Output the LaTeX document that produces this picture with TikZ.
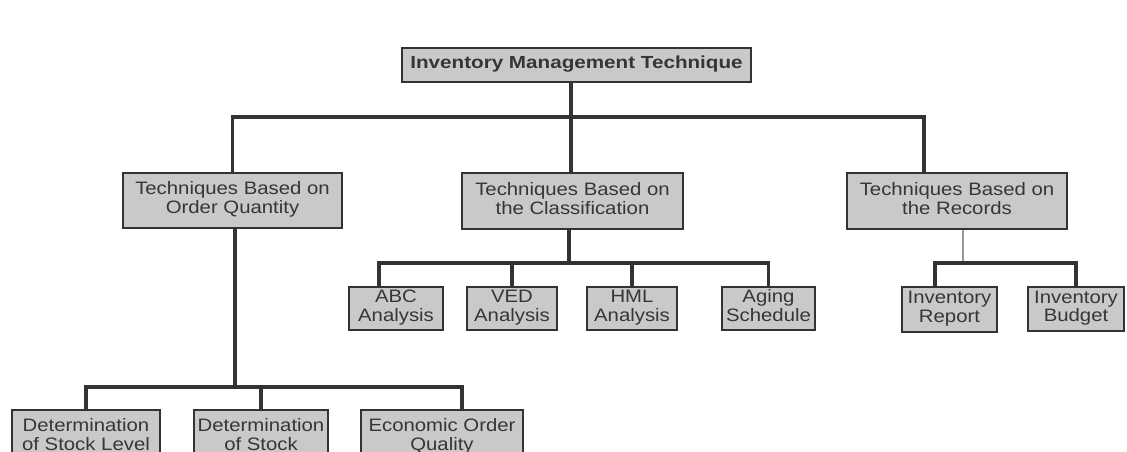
\documentclass[tikz,border=0pt]{standalone}
\usepackage{fontspec}
\setmainfont{Liberation Sans}
\usepackage{graphicx}
\definecolor{boxfill}{HTML}{C9C9C9}
\definecolor{boxline}{HTML}{333333}
\definecolor{txt}{HTML}{363636}
\definecolor{lightconn}{HTML}{9A9A9A}
\newcommand{\lbl}[2][1.13]{\scalebox{#1}[1]{\begin{tabular}{@{}c@{}}#2\end{tabular}}}
\begin{document}
\begin{tikzpicture}[x=1pt,y=-1pt,
  box/.style={draw=boxline, line width=1.8pt, fill=boxfill, inner sep=0pt,
    text=txt, font=\fontsize{18}{18.5}\selectfont},
  conn/.style={draw=boxline, line width=3.2pt},
  lconn/.style={draw=lightconn, line width=2.4pt}]
\useasboundingbox (0,0) rectangle (1127,452);
\fill[white] (0,0) rectangle (1127,452);
\clip (0,0) rectangle (1127,452);
% level 1
\node[box, minimum width=349pt, minimum height=34pt, font=\fontsize{17.5}{18}\selectfont\bfseries] (top) at (576.5,65) {\lbl[1.18]{Inventory Management Technique}};
% level 2
\node[box, minimum width=219pt, minimum height=55pt] (q) at (232.5,200.5) {\lbl{Techniques Based on\\Order Quantity}};
\node[box, minimum width=221pt, minimum height=56pt] (c) at (572.5,201) {\lbl{Techniques Based on\\the Classification}};
\node[box, minimum width=220pt, minimum height=56pt] (r) at (957,201) {\lbl{Techniques Based on\\the Records}};
% level 3 classification
\node[box, minimum width=94pt, minimum height=43pt] (abc) at (396,308.5) {\lbl{ABC\\Analysis}};
\node[box, minimum width=90pt, minimum height=43pt] (ved) at (512,308.5) {\lbl{VED\\Analysis}};
\node[box, minimum width=90pt, minimum height=43pt] (hml) at (632,308.5) {\lbl{HML\\Analysis}};
\node[box, minimum width=93pt, minimum height=43pt] (aging) at (768.5,308.5) {\lbl{Aging\\Schedule}};
% level 3 records
\node[box, minimum width=95pt, minimum height=45pt] (rep) at (949.5,309.5) {\lbl{Inventory\\Report}};
\node[box, minimum width=96pt, minimum height=44pt] (bud) at (1076,309) {\lbl{Inventory\\Budget}};
% level 3 order quantity
\node[box, minimum width=148pt, minimum height=55pt] (d1) at (86,437.5) {\lbl{Determination\\of Stock Level}};
\node[box, minimum width=134pt, minimum height=55pt] (d2) at (261,437.5) {\lbl{Determination\\of Stock}};
\node[box, minimum width=162pt, minimum height=55pt] (d3) at (442,437.5) {\lbl{Economic Order\\Quality}};
% connectors level 1 -> 2
\coordinate (j1) at (571,117);
\coordinate (rt) at (924,117);
\draw[conn] (top.south -| j1) -- (j1);
\draw[conn] (q.north) |- (rt) -- (rt |- r.north);
\draw[conn] (j1) -- (j1 |- c.north);
% classification
\coordinate (j2) at (569,263);
\coordinate (abcd) at (379,263);
\draw[conn] (c.south -| j2) -- (j2);
\draw[conn] (abcd |- abc.north) -- (abcd) -| (aging.north);
\draw[conn] (ved.north) -- (ved.north |- j2);
\draw[conn] (hml.north) -- (hml.north |- j2);
% records
\coordinate (j3) at (963,263);
\coordinate (repd) at (935,263);
\draw[lconn] (r.south -| j3) -- (j3);
\draw[conn] (repd |- rep.north) -- (repd) -| (bud.north);
% order quantity
\coordinate (j4) at (235,387);
\coordinate (d3d) at (462,387);
\draw[conn] (q.south -| j4) -- (j4);
\draw[conn] (d1.north) |- (d3d) -- (d3d |- d3.north);
\draw[conn] (d2.north) -- (d2.north |- j4);
\end{tikzpicture}
\end{document}
